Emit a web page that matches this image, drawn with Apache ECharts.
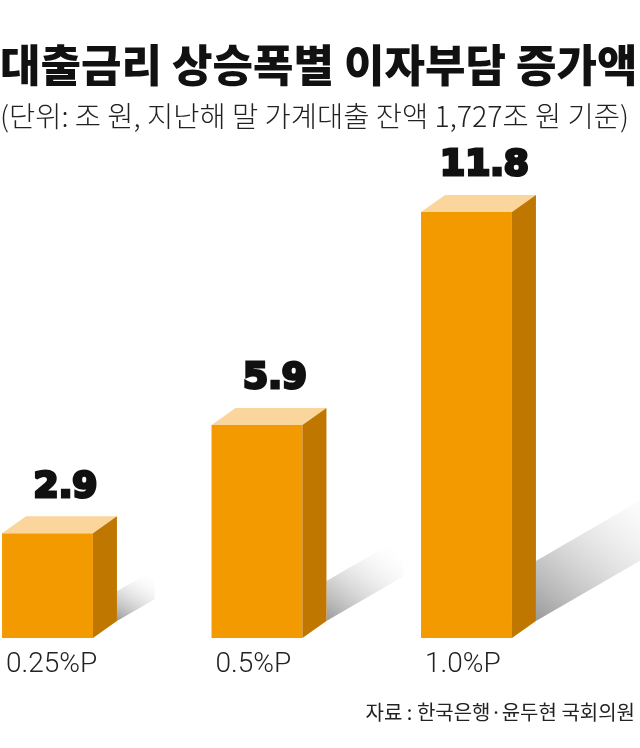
<!DOCTYPE html>
<html><head><meta charset="utf-8">
<script src="https://cdn.jsdelivr.net/npm/echarts@6/dist/echarts.min.js"></script>
<style>html,body{margin:0;padding:0;background:#fff}#c{width:640px;height:748px}</style>
</head><body><div id="c"></div>
<script>
const categories = ['0.25%P', '0.5%P', '1.0%P'];
const values = [2.9, 5.9, 11.8];
const titleText = '대출금리 상승폭별 이자부담 증가액';
const subtitleText = '(단위: 조 원, 지난해 말 가계대출 잔액 1,727조 원 기준)';
const sourceText = '자료 : 한국은행·윤두현 국회의원';

const FRONT = '#F39A00', SIDE = '#BF7700', TOP = '#FBD69C';
const DX = 24, DY = 17, BW_RATIO = 0.434;

const chart = echarts.init(document.getElementById('c'), null, {renderer: 'canvas'});
const data = values.map((v, i) => ({value: [i, v], name: categories[i]}));

function geom(api) {
  const base = api.coord([api.value(0), 0]);
  const top = api.coord([api.value(0), api.value(1)]);
  const bw = api.size([1, 0])[0] * BW_RATIO;
  const x0 = base[0] - bw / 2;
  return {x0, x1: x0 + bw, bw, yb: base[1], yt: top[1], cx: base[0]};
}

chart.setOption({
  animation: false,
  title: [
    {text: titleText, left: 0, top: 43, padding: 0,
     textStyle: {fontFamily: 'Noto Sans CJK KR', fontWeight: 900, fontSize: 44, color: '#111'}},
    {text: subtitleText, left: 0, top: 102, padding: 0,
     textStyle: {fontFamily: 'Noto Sans CJK KR', fontWeight: 300, fontSize: 28.5, color: '#222'}},
    {text: sourceText, right: 5, top: 702, padding: 0,
     textStyle: {fontFamily: 'Noto Sans CJK KR', fontWeight: 400, fontSize: 20, color: '#222'}}
  ],
  grid: {left: 0, right: 0, top: 96.5, bottom: 110},
  xAxis: {type: 'value', min: -0.2267, max: 2.8282, show: false, splitLine: {show: false}},
  yAxis: {type: 'value', min: 0, max: 15, show: false, splitLine: {show: false}},
  series: [
    {type: 'custom', z: 1, data: data,
     renderItem: function (params, api) {
       const g = geom(api);
       const v = api.value(1);
       const xs = g.x1 + DX, ybot = g.yb - DY;
       const band = 20 + 3.4 * v, L = 13 * v, s = 0.58;
       return {type: 'polygon', shape: {points: [
           [xs, ybot], [xs, ybot - band], [xs + L, ybot - band - s * L], [xs + L, ybot - s * L]]},
         style: {fill: new echarts.graphic.LinearGradient(0, 1, 0.8, 0, [
           {offset: 0, color: 'rgba(110,110,110,0.7)'},
           {offset: 0.5, color: 'rgba(190,190,190,0.4)'},
           {offset: 1, color: 'rgba(255,255,255,0)'}])}};
     }},
    {type: 'custom', z: 2, data: data,
     renderItem: function (params, api) {
       const g = geom(api);
       return {type: 'group', children: [
         {type: 'rect', shape: {x: g.x0, y: g.yt, width: g.bw, height: g.yb - g.yt}, style: {fill: FRONT}},
         {type: 'polygon', shape: {points: [[g.x0, g.yt], [g.x1, g.yt], [g.x1 + DX, g.yt - DY], [g.x0 + DX, g.yt - DY]]}, style: {fill: TOP}},
         {type: 'polygon', shape: {points: [[g.x1, g.yt], [g.x1 + DX, g.yt - DY], [g.x1 + DX, g.yb - DY], [g.x1, g.yb]]}, style: {fill: SIDE}},
         {type: 'text', style: {text: String(api.value(1)), x: g.cx + 18, y: g.yt - DY - 11,
           align: 'center', verticalAlign: 'bottom',
           font: 'bold 36px "DejaVu Sans"', fill: '#111', stroke: '#111', lineWidth: 3}},
         {type: 'text', style: {text: categories[params.dataIndex], x: g.x0 + 4, y: g.yb + 27,
           align: 'left', verticalAlign: 'middle',
           font: '300 28px Roboto', fill: '#222'}}
       ]};
     }}
  ]
});
</script></body></html>
